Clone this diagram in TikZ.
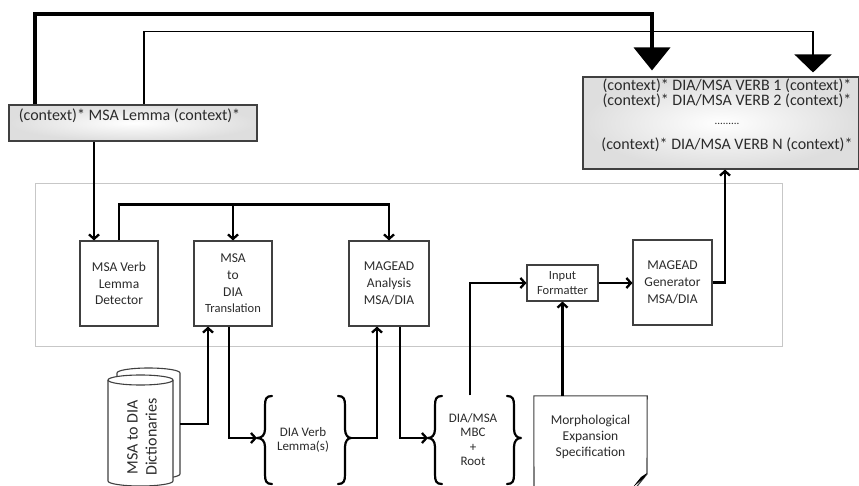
\documentclass[tikz,border=0pt]{standalone}
\usepackage{fontspec}
\setmainfont{Carlito}
\usetikzlibrary{arrows.meta}
\definecolor{txt}{HTML}{2B2B2B}
\definecolor{edge}{HTML}{404040}
\begin{document}
\begin{tikzpicture}[x=1pt,y=-1pt,
  every node/.style={text=txt},
  box/.style={draw=edge, line width=1.1pt, fill=white, inner sep=0pt, align=center,
    font=\fontsize{13.5}{16.7}\selectfont},
  ctx/.style={draw=edge, line width=1.1pt, inner color=white, outer color=black!13, inner sep=0pt},
  ctxtxt/.style={font=\fontsize{16}{19}\selectfont, inner sep=0pt},
  lbl/.style={align=center, inner sep=0pt, font=\fontsize{13}{14.5}\selectfont},
  conn/.style={line width=2.3pt, -{Straight Barb[length=4.5pt,width=10pt]}},
  bigarr/.style={line width=4pt, -{Triangle[length=23pt,width=36pt]}},
  thinarr/.style={line width=1.3pt, draw=black!70, -{Triangle[length=18pt,width=37pt]}, color=black},
  bracestyle/.style={line width=2.2pt, line cap=round, line join=round},
  container/.style={draw=black!22, line width=0.9pt, inner sep=0pt}
]
\useasboundingbox (0,0) rectangle (859,486);
\fill[white] (0,0) rectangle (859,486);

% container
\node[container, minimum width=747pt, minimum height=163pt] (frame) at (408.5,264.5) {};

% context boxes
\node[ctx, minimum width=248pt, minimum height=36pt] (lem) at (133,123) {};
\node[ctxtxt] (lemtxt) at (129.5,116) {(context)* MSA Lemma (context)*};

\node[ctx, minimum width=276pt, minimum height=92pt] (out) at (721,123) {};
\node[ctxtxt] (o1) at (727,86) {(context)* DIA/MSA VERB 1 (context)*};
\node[ctxtxt] (o2) at (727,101) {(context)* DIA/MSA VERB 2 (context)*};
\node[ctxtxt, font=\fontsize{11}{12}\selectfont] (o3) at (727,124) {.........};
\node[ctxtxt] (o4) at (727,145) {(context)* DIA/MSA VERB N (context)*};

% process boxes
\node[box, minimum width=78pt, minimum height=85pt] (det) at (119,283.5) {MSA Verb\\Lemma\\Detector};
\node[box, minimum width=78pt, minimum height=85pt] (tra) at (233,283.5) {MSA\\to\\DIA\\{\fontsize{12.5}{14}\selectfont Translation}};
\node[box, minimum width=80pt, minimum height=85pt] (ana) at (389,283.5) {MAGEAD\\Analysis\\MSA/DIA};
\node[box, minimum width=71pt, minimum height=36pt, font=\fontsize{12.5}{15}\selectfont] (inf) at (562.5,283) {Input\\Formatter};
\node[box, minimum width=79pt, minimum height=85pt] (gen) at (672.5,282.5) {MAGEAD\\Generator\\MSA/DIA};

% dictionaries cylinder
\begin{scope}[draw=edge, line width=1.1pt]
  \draw[fill=white] (117,373) -- (117,474) arc[start angle=180, end angle=360, x radius=31.5pt, y radius=5pt]
     -- (180,373) arc[start angle=0, end angle=180, x radius=31.5pt, y radius=5pt] -- cycle;
  \draw[fill=white] (108,380) -- (108,481) arc[start angle=180, end angle=360, x radius=32.5pt, y radius=5pt]
     -- (173,380) arc[start angle=0, end angle=180, x radius=32.5pt, y radius=5pt] -- cycle;
  \draw (108,380) arc[start angle=180, end angle=360, x radius=32.5pt, y radius=5pt];
\end{scope}
\node[lbl, rotate=90, font=\fontsize{16}{19}\selectfont] (dict) at (142,437) {MSA to DIA\\Dictionaries};
\coordinate (dictR) at (180,424);

% braces: DIA verb lemma(s)
\node[lbl, minimum height=88pt] (dvl) at (303,440) {DIA Verb\\Lemma(s)};
\coordinate (dvlL) at (257,438);
\coordinate (dvlR) at (351,438);
\draw[bracestyle] (272,396) .. controls (266,396) and (265,399) .. (265,406) -- (265,429)
  .. controls (265,435) and (262,438) .. (dvlL) .. controls (262,438) and (265,441) .. (265,447)
  -- (265,474) .. controls (265,481) and (266,484) .. (272,484);
\draw[bracestyle] (338,396) .. controls (344,396) and (345,399) .. (345,406) -- (345,429)
  .. controls (345,435) and (348,438) .. (dvlR) .. controls (348,438) and (345,441) .. (345,447)
  -- (345,474) .. controls (345,481) and (344,484) .. (338,484);

% braces: DIA/MSA MBC + Root
\node[lbl, minimum height=88pt] (mbc) at (473,439.5) {DIA/MSA\\MBC\\+\\Root};
\coordinate (mbcL) at (428,438);
\coordinate (mbcR) at (521,438);
\draw[bracestyle] (442,396) .. controls (436,396) and (435,399) .. (435,406) -- (435,429)
  .. controls (435,435) and (432,438) .. (mbcL) .. controls (432,438) and (435,441) .. (435,447)
  -- (435,474) .. controls (435,481) and (436,484) .. (442,484);
\draw[bracestyle] (507,396) .. controls (513,396) and (514,399) .. (514,406) -- (514,429)
  .. controls (514,435) and (517,438) .. (mbcR) .. controls (517,438) and (514,441) .. (514,447)
  -- (514,474) .. controls (514,481) and (513,484) .. (507,484);

% morphological expansion spec (document shape)
\node[lbl, minimum width=113pt, minimum height=82pt, font=\fontsize{13.5}{16}\selectfont] (spec) at (590.5,437) {Morphological\\Expansion\\Specification};
\draw[draw=edge, line width=1.1pt] (534,495) -- (spec.north west) -- (spec.north east) -- (647,474) -- (634,490);
\fill[black] (647,473) -- (641,477) -- (633,487) -- (644,478) -- cycle;

% connectors
\draw[bigarr] ([xshift=-98pt]lem.north) -- ++(0,-90) -| ([xshift=-69pt,yshift=6pt]out.north);
\draw[thinarr] ([xshift=11pt]lem.north) -- ++(0,-73) -| ([xshift=92pt,yshift=4pt]out.north);

\draw[conn] ([xshift=-25pt]det.north |- lem.south) -- ([xshift=-25pt]det.north);
\draw[conn] (det.north) -- ++(0,-36) -| (ana.north);
\draw[conn] ([yshift=36pt]tra.north) -- (tra.north);

\draw[conn] (dictR) -| ([xshift=-25pt]tra.south);
\draw[conn] ([xshift=-4pt]tra.south) |- (dvlL);
\draw[conn] (dvlR) -| ([xshift=-12pt]ana.south);
\draw[conn] ([xshift=11pt]ana.south) |- (mbcL);
\draw[conn] ([xshift=-3pt]mbc.north) |- (inf.west);
\draw[conn] ([xshift=-28pt]spec.north) -- ([xshift=-28pt]spec.north |- inf.south);
\draw[conn] (inf.east) -- (gen.west |- inf.east);
\draw[conn] (gen.east) -| ([xshift=4pt]out.south);
\end{tikzpicture}
\end{document}
